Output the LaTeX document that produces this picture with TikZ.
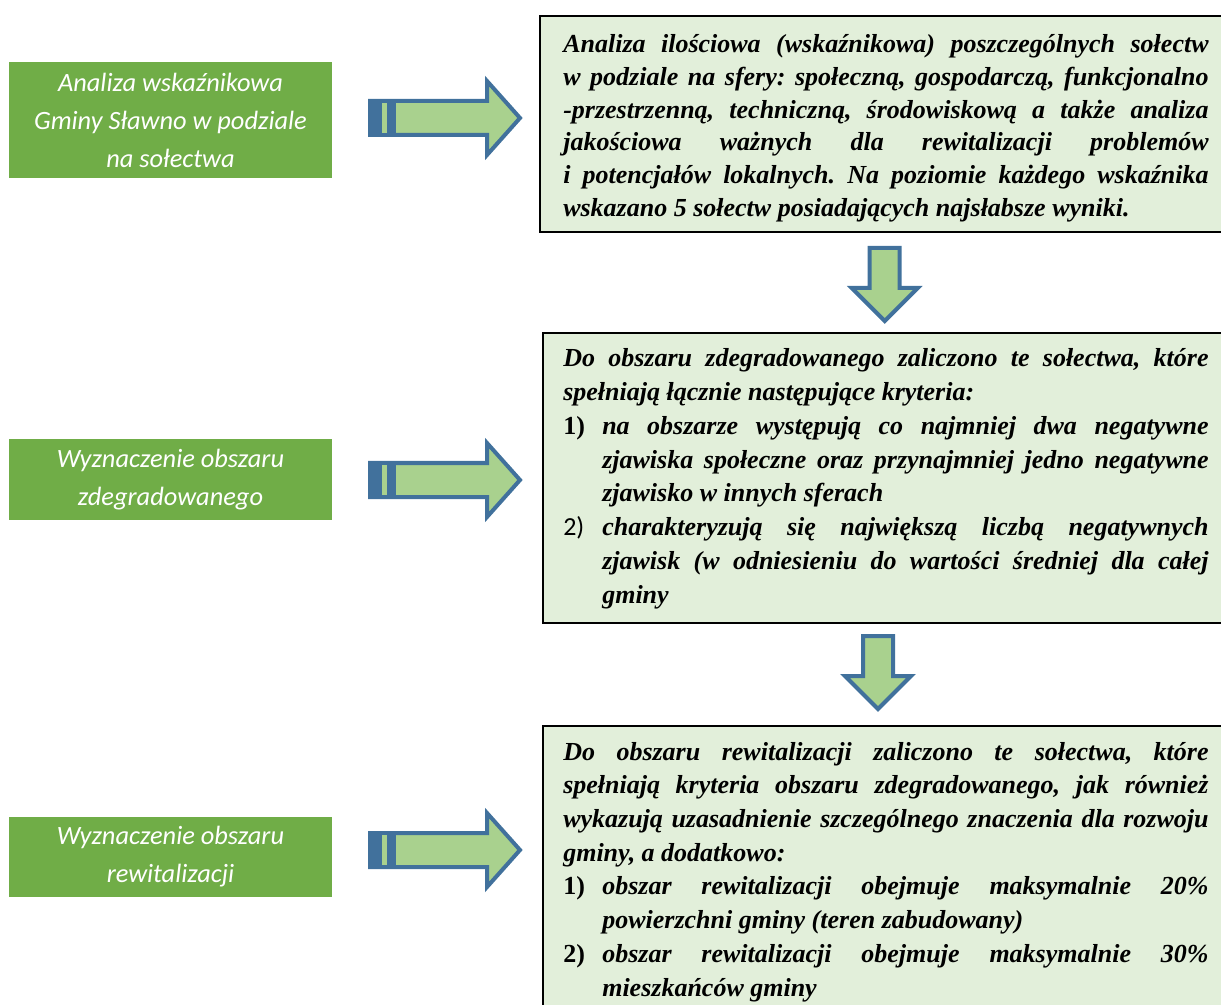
\documentclass[tikz,border=0pt]{standalone}
\usepackage{fontspec}
\setmainfont{Liberation Serif}
\newfontfamily\calibri{Carlito}

\definecolor{krokgreen}{RGB}{112,173,71}
\definecolor{opisgreen}{RGB}{226,239,218}
\definecolor{strzalkafill}{RGB}{169,209,142}
\definecolor{strzalkablue}{RGB}{65,113,156}

\tolerance=10000
\hbadness=10000
\hyphenpenalty=10000
\exhyphenpenalty=10000
\frenchspacing

\newlength{\critind}
\setlength{\critind}{29.25pt}
\newcommand{\crit}[1]{\par\hangindent=\critind\hangafter=0\noindent\llap{\makebox[\critind][l]{#1}}\ignorespaces}

\tikzset{
  krok/.style={fill=krokgreen, text=white, minimum width=242.25pt, inner sep=0pt, align=center, font=\calibri\itshape\fontsize{19.8}{28.5}\selectfont},
  opisbox/.style={draw=black, line width=1.5pt, fill=opisgreen},
  opis/.style={anchor=base west, inner sep=0pt, text width=484pt, align=justify, font=\bfseries\itshape\fontsize{19.5}{#1}\selectfont},
  opis/.default=24.5,
  strzalka/.style={draw=strzalkablue, fill=strzalkafill, line width=3pt},
  stripearrow/.pic={
    \draw[strzalka] (2,-17) -- (119,-17) -- (119,-37) -- (152,0) -- (119,37) -- (119,17) -- (2,17) -- cycle;
    \fill[strzalkablue] (0,-19) rectangle (28,19);
    \fill[strzalkafill] (14,-15) rectangle (19,15);
  },
  downarrow/.pic={
    \draw[strzalka] (-15,-2) -- (15,-2) -- (15,-42) -- (33,-42) -- (0,-75) -- (-33,-42) -- (-15,-42) -- cycle;
  }
}

\begin{document}
\begin{tikzpicture}[x=0.75pt,y=0.75pt,yscale=-1,xscale=1]
\useasboundingbox (0,0) rectangle (1221,1005);
\clip (0,0) rectangle (1221,1005);

%Shape: Rectangle
\draw[opisbox] (540,16) rectangle (1230,232);
%Shape: Rectangle
\draw[opisbox] (543,333) rectangle (1230,623);
%Shape: Rectangle
\draw[opisbox] (543,726) rectangle (1230,1015);

%Right Arrows
\pic at (368,118) {stripearrow};
\pic at (368,480) {stripearrow};
\pic at (368,850) {stripearrow};
%Down Arrows
\pic at (884.7,246) {downarrow};
\pic at (878,634) {downarrow};

% Text Node
\node[krok, minimum height=87pt] (krok1) at (170.5,120) {Analiza wskaźnikowa\\Gminy Sławno w podziale\\na sołectwa};
% Text Node
\node[krok, minimum height=60.75pt] (krok2) at (170.5,479.5) {Wyznaczenie obszaru\\zdegradowanego};
% Text Node
\node[krok, minimum height=60pt] (krok3) at (170.5,857) {Wyznaczenie obszaru\\rewitalizacji};

% Text Node
\node[opis] (opis1) at (563,53) {Analiza ilościowa (wskaźnikowa) poszczególnych sołectw\linebreak
w podziale na sfery: społeczną, gospodarczą, funkcjonalno\linebreak
-przestrzenną, techniczną, środowiskową a także analiza\linebreak
jakościowa ważnych dla rewitalizacji problemów\linebreak
i potencjałów lokalnych. Na poziomie każdego wskaźnika\linebreak
wskazano 5 sołectw posiadających najsłabsze wyniki.\par};
% Text Node
\node[opis=25.3] (opis2) at (563,367) {Do obszaru zdegradowanego zaliczono te sołectwa, które\linebreak
spełniają łącznie następujące kryteria:
\crit{\textup{1)}}na obszarze występują co najmniej dwa negatywne\linebreak
zjawiska społeczne oraz przynajmniej jedno negatywne\linebreak
zjawisko w innych sferach
\crit{\textup{\calibri\mdseries 2)}}charakteryzują się największą liczbą negatywnych\linebreak
zjawisk (w odniesieniu do wartości średniej dla całej\linebreak
gminy\par};
% Text Node
\node[opis=25.3] (opis3) at (563,760) {Do obszaru rewitalizacji zaliczono te sołectwa, które\linebreak
spełniają kryteria obszaru zdegradowanego, jak również\linebreak
wykazują uzasadnienie szczególnego znaczenia dla rozwoju\linebreak
gminy, a dodatkowo:
\crit{\textup{1)}}obszar rewitalizacji obejmuje maksymalnie 20\%\linebreak
powierzchni gminy (teren zabudowany)
\crit{\textup{2)}}obszar rewitalizacji obejmuje maksymalnie 30\%\linebreak
mieszkańców gminy\par};

\end{tikzpicture}
\end{document}
